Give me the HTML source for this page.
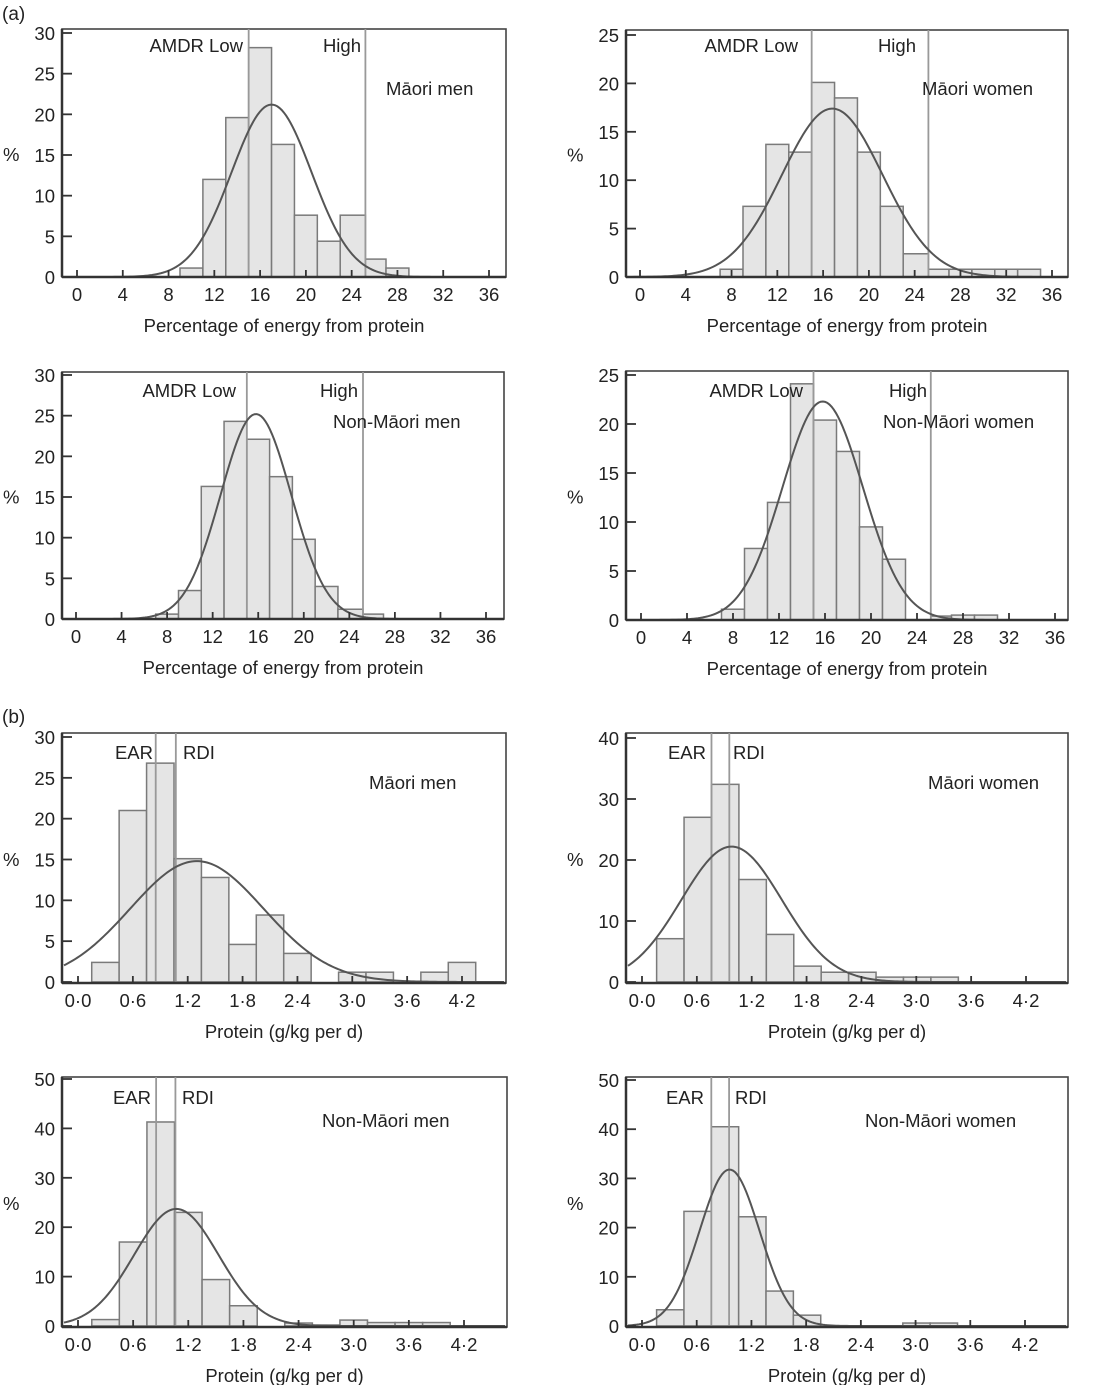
<!DOCTYPE html>
<html><head><meta charset="utf-8">
<style>
html,body{margin:0;padding:0;background:#fff;}
svg{display:block;}
text{font-family:"Liberation Sans",Arial,sans-serif;fill:#222;}
</style></head>
<body>
<svg id="fig" width="1099" height="1385" viewBox="0 0 1099 1385" xmlns="http://www.w3.org/2000/svg">
<text x="2" y="20" font-size="19">(a)</text>
<text x="2" y="723" font-size="19">(b)</text>
</svg>
<script>
// ---- data (a) percentage of energy from protein ----
const xTicksA = [0,4,8,12,16,20,24,28,32,36];
const xTickLabelsA = ["0","4","8","12","16","20","24","28","32","36"];
const xTicksB = [0,0.6,1.2,1.8,2.4,3.0,3.6,4.2];
const xTickLabelsB = ["0·0","0·6","1·2","1·8","2·4","3·0","3·6","4·2"];

const p1Edges = [9,11,13,15,17,19,21,23,25.2,27,29];
const p1Heights = [1.1,12,19.6,28.2,16.3,7.6,4.4,7.6,2.2,1.1];
const p1Curve = [17,3.5,21.2];     // mean, sd, peak
const p1RefLines = [15,25.2];
const p1YTicks = [0,5,10,15,20,25,30];

const p2Edges = [7,9,11,13,15,17,19,21,23,25.2,27,29,31,33,35];
const p2Heights = [0.8,7.3,13.7,12.9,20.1,18.5,12.9,7.3,2.4,0.8,0.8,0.8,0.8,0.8];
const p2Curve = [16.8,4.4,17.4];
const p2RefLines = [15,25.2];
const p2YTicks = [0,5,10,15,20,25];

const p3Edges = [7,9,11,13,15,17,19,21,23,25.2,27];
const p3Heights = [0.6,3.5,16.3,24.3,22.1,17.5,9.8,4.0,1.2,0.6];
const p3Curve = [15.8,3.1,25.2];
const p3RefLines = [15,25.2];
const p3YTicks = [0,5,10,15,20,25,30];

const p4Edges = [7,9,11,13,15,17,19,21,23,25.2,27,29,31];
const p4Heights = [1.1,7.3,12,24.1,20.4,17.2,9.5,6.2,0,0.4,0.5,0.5];
const p4Curve = [15.8,3.5,22.3];
const p4RefLines = [15,25.2];
const p4YTicks = [0,5,10,15,20,25];

// ---- data (b) protein g/kg per d ----
const p5Edges = [0.15,0.45,0.75,1.05,1.35,1.65,1.95,2.25,2.55,2.85,3.15,3.45,3.75,4.05,4.35];
const p5Heights = [2.4,21,26.8,15.1,12.8,4.6,8.2,3.5,0,1.2,1.2,0,1.2,2.4];
const p5Curve = [1.3,0.73,14.8];
const p5RefLines = [0.85,1.07];
const p5YTicks = [0,5,10,15,20,25,30];

const p6Edges = [0.16,0.46,0.76,1.06,1.36,1.66,1.96,2.26,2.56,2.86,3.16,3.46];
const p6Heights = [7.1,27,32.4,16.8,7.8,2.6,1.6,1.6,0.8,0.8,0.8];
const p6Curve = [0.98,0.55,22.2];
const p6RefLines = [0.76,0.955];
const p6YTicks = [0,10,20,30,40];

const p7Edges = [0.15,0.45,0.75,1.05,1.35,1.65,1.95,2.25,2.55,2.85,3.15,3.45,3.75,4.05];
const p7Heights = [1.3,17,41.3,23,9.4,4.1,0,0.6,0.2,1.2,0.7,0.7,0.7];
const p7Curve = [1.07,0.46,23.7];
const p7RefLines = [0.85,1.06];
const p7YTicks = [0,10,20,30,40,50];

const p8Edges = [0.16,0.46,0.76,1.06,1.36,1.66,1.96,2.26,2.56,2.86,3.16,3.46];
const p8Heights = [3.3,23.3,40.5,22.2,7.1,2.2,0,0,0,0.6,0.6];
const p8Curve = [0.96,0.33,31.8];
const p8RefLines = [0.76,0.955];
const p8YTicks = [0,10,20,30,40,50];

const FS = 18.5;
const NS = "http://www.w3.org/2000/svg";
const svg = document.getElementById('fig');
function mk(tag, attrs, parent){
  const e = document.createElementNS(NS, tag);
  for (const k in attrs) e.setAttribute(k, attrs[k]);
  (parent||svg).appendChild(e);
  return e;
}

function panel(cfg){
  const g = mk('g', {});
  
  
  const X = v => cfg.x0 + (v - cfg.v0) * (cfg.x1 - cfg.x0) / (cfg.v1 - cfg.v0);
  const Y = v => cfg.yb - v * (cfg.yb - cfg.yt) / cfg.ymax;
  const fr = mk('rect', {x:cfg.L, y:cfg.T, width:cfg.R-cfg.L, height:cfg.B-cfg.T, fill:'none', stroke:'#444', 'stroke-width':1.6}, g);
  
  
  for (let i=0;i<cfg.heights.length;i++){
    const h = cfg.heights[i];
    if (h <= 0) continue;
    const x1 = X(cfg.edges[i]), x2 = X(cfg.edges[i+1]);
    const b = mk('rect', {x:x1, y:Y(h), width:x2-x1, height:Y(0)-Y(h), fill:'#e5e5e5', stroke:'#7a7a7a', 'stroke-width':1.5}, g);
    
    
  }
  cfg.refs.forEach((r,i)=>{
    const l = mk('line', {x1:X(r), x2:X(r), y1:cfg.T, y2:cfg.B, stroke:'#999', 'stroke-width':1.8}, g);
    
    
  });
  const [mu, sd, pk] = cfg.curve;
  const vStart = cfg.v0 + (cfg.L + 2 - cfg.x0) * (cfg.v1 - cfg.v0) / (cfg.x1 - cfg.x0);
  const vEnd = cfg.v0 + (cfg.R - 2 - cfg.x0) * (cfg.v1 - cfg.v0) / (cfg.x1 - cfg.x0);
  let d = '';
  const N = 200;
  for (let i=0;i<=N;i++){
    const v = vStart + (vEnd - vStart) * i / N;
    const yv = pk * Math.exp(-((v-mu)*(v-mu))/(2*sd*sd));
    d += (i?'L':'M') + X(v).toFixed(2) + ' ' + Y(yv).toFixed(2);
  }
  const c = mk('path', {d:d, fill:'none', stroke:'#555', 'stroke-width':2}, g);
  
  
  const ax = mk('line', {x1:cfg.L, x2:cfg.R, y1:cfg.B, y2:cfg.B, stroke:'#333', 'stroke-width':2.5}, g);
  
  
  const ay = mk('line', {x1:cfg.L, x2:cfg.L, y1:cfg.T, y2:cfg.B, stroke:'#333', 'stroke-width':2.5}, g);
  
  
  cfg.yticks.forEach(t=>{
    const tl = mk('line', {x1:cfg.L, x2:cfg.L+10, y1:Y(t), y2:Y(t), stroke:'#333', 'stroke-width':1.8}, g);
    
    
    const tx = mk('text', {x:cfg.L-7, y:Y(t)+7, 'font-size':FS, 'text-anchor':'end'}, g);
    tx.textContent = String(t);
    
    
  });
  cfg.xticks.forEach((t,i)=>{
    const tl = mk('line', {x1:X(t), x2:X(t), y1:cfg.B, y2:cfg.B-7, stroke:'#333', 'stroke-width':1.8}, g);
    
    
    const tx = mk('text', {x:X(t), y:cfg.B+24, 'font-size':FS, 'text-anchor':'middle'}, g);
    tx.textContent = cfg.xlabels[i];
    
    
  });
  const yt = mk('text', {x:cfg.pctX, y:(cfg.T+cfg.B)/2+8, 'font-size':FS}, g);
  yt.textContent = '%';
  
  
  const xt = mk('text', {x:(cfg.L+cfg.R)/2, y:cfg.B+55, 'font-size':FS, 'text-anchor':'middle'}, g);
  xt.textContent = cfg.xtitle;
  
  
  const rl1 = mk('text', {x:cfg.lab1X, y:cfg.labY, 'font-size':FS, 'text-anchor':'end'}, g);
  rl1.textContent = cfg.lab1;
  
  
  const rl2 = mk('text', {x:cfg.lab2X, y:cfg.labY, 'font-size':FS, 'text-anchor':cfg.lab2Anchor}, g);
  rl2.textContent = cfg.lab2;
  
  
  const gt = mk('text', {x:cfg.grpX, y:cfg.grpY, 'font-size':FS}, g);
  gt.textContent = cfg.group;
  
  
}

const TA = 'Percentage of energy from protein', TB = 'Protein (g/kg per d)';
panel({name:'maori-men-energy-chart', L:62,R:506,T:29,B:277, x0:77,x1:489,v0:0,v1:36, yb:277,yt:33,ymax:30,
  edges:p1Edges, heights:p1Heights, curve:p1Curve, refs:p1RefLines, yticks:p1YTicks, xticks:xTicksA, xlabels:xTickLabelsA,
  xtitle:TA, pctX:3, lab1:'AMDR Low', lab1X:243, lab2:'High', lab2X:361, lab2Anchor:'end', labY:52, group:'Māori men', grpX:386, grpY:95});
panel({name:'maori-women-energy-chart', L:626,R:1068,T:30,B:277, x0:640,x1:1052,v0:0,v1:36, yb:277,yt:35,ymax:25,
  edges:p2Edges, heights:p2Heights, curve:p2Curve, refs:p2RefLines, yticks:p2YTicks, xticks:xTicksA, xlabels:xTickLabelsA,
  xtitle:TA, pctX:567, lab1:'AMDR Low', lab1X:798, lab2:'High', lab2X:916, lab2Anchor:'end', labY:52, group:'Māori women', grpX:922, grpY:95});
panel({name:'non-maori-men-energy-chart', L:62,R:504,T:372,B:619, x0:76,x1:486,v0:0,v1:36, yb:619,yt:375,ymax:30,
  edges:p3Edges, heights:p3Heights, curve:p3Curve, refs:p3RefLines, yticks:p3YTicks, xticks:xTicksA, xlabels:xTickLabelsA,
  xtitle:TA, pctX:3, lab1:'AMDR Low', lab1X:236, lab2:'High', lab2X:358, lab2Anchor:'end', labY:397, group:'Non-Māori men', grpX:333, grpY:428});
panel({name:'non-maori-women-energy-chart', L:626,R:1068,T:371,B:620, x0:641,x1:1055,v0:0,v1:36, yb:620,yt:375,ymax:25,
  edges:p4Edges, heights:p4Heights, curve:p4Curve, refs:p4RefLines, yticks:p4YTicks, xticks:xTicksA, xlabels:xTickLabelsA,
  xtitle:TA, pctX:567, lab1:'AMDR Low', lab1X:803, lab2:'High', lab2X:927, lab2Anchor:'end', labY:397, group:'Non-Māori women', grpX:883, grpY:428});
panel({name:'maori-men-protein-chart', L:62,R:506,T:733,B:983, x0:78,x1:462,v0:0,v1:4.2, yb:982,yt:737,ymax:30,
  edges:p5Edges, heights:p5Heights, curve:p5Curve, refs:p5RefLines, yticks:p5YTicks, xticks:xTicksB, xlabels:xTickLabelsB,
  xtitle:TB, pctX:3, lab1:'EAR', lab1X:153, lab2:'RDI', lab2X:183, lab2Anchor:'start', labY:759, group:'Māori men', grpX:369, grpY:789});
panel({name:'maori-women-protein-chart', L:626,R:1068,T:733,B:983, x0:642,x1:1026,v0:0,v1:4.2, yb:982,yt:738,ymax:40,
  edges:p6Edges, heights:p6Heights, curve:p6Curve, refs:p6RefLines, yticks:p6YTicks, xticks:xTicksB, xlabels:xTickLabelsB,
  xtitle:TB, pctX:567, lab1:'EAR', lab1X:706, lab2:'RDI', lab2X:733, lab2Anchor:'start', labY:759, group:'Māori women', grpX:928, grpY:789});
panel({name:'non-maori-men-protein-chart', L:62,R:507,T:1077,B:1327, x0:78,x1:464,v0:0,v1:4.2, yb:1326,yt:1079,ymax:50,
  edges:p7Edges, heights:p7Heights, curve:p7Curve, refs:p7RefLines, yticks:p7YTicks, xticks:xTicksB, xlabels:xTickLabelsB,
  xtitle:TB, pctX:3, lab1:'EAR', lab1X:151, lab2:'RDI', lab2X:182, lab2Anchor:'start', labY:1104, group:'Non-Māori men', grpX:322, grpY:1127});
panel({name:'non-maori-women-protein-chart', L:626,R:1068,T:1077,B:1327, x0:642,x1:1025,v0:0,v1:4.2, yb:1326,yt:1080,ymax:50,
  edges:p8Edges, heights:p8Heights, curve:p8Curve, refs:p8RefLines, yticks:p8YTicks, xticks:xTicksB, xlabels:xTickLabelsB,
  xtitle:TB, pctX:567, lab1:'EAR', lab1X:704, lab2:'RDI', lab2X:735, lab2Anchor:'start', labY:1104, group:'Non-Māori women', grpX:865, grpY:1127});
</script>
</body></html>
